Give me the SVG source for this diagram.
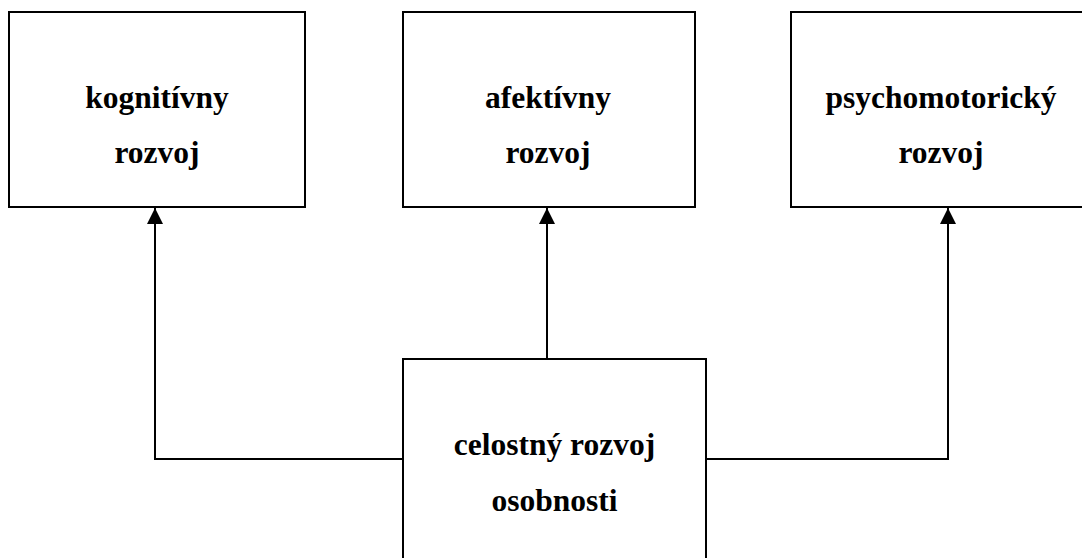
<svg xmlns="http://www.w3.org/2000/svg" width="1082" height="558" viewBox="0 0 1082 558">
<style>
.box{fill:#fff;stroke:#000;stroke-width:2}
.lbl{font-family:"Liberation Serif","Times New Roman",serif;font-weight:bold;font-size:31.5px;fill:#000;text-anchor:middle}
.conn{fill:none;stroke:#000;stroke-width:2}
</style>
<defs>
<marker id="arr" markerUnits="userSpaceOnUse" markerWidth="16" markerHeight="16" refX="16" refY="8" orient="auto">
<path d="M0,0 L16,8 L0,16 Z" fill="#000"/>
</marker>
</defs>
<rect width="1082" height="558" fill="#fff"/>
<g id="connectors">
<path class="conn" d="M403,459 H155 V208" marker-end="url(#arr)"/>
<path class="conn" d="M547,359 V208" marker-end="url(#arr)"/>
<path class="conn" d="M706,459 H948 V208" marker-end="url(#arr)"/>
</g>
<g id="kognitivny">
<rect class="box" x="9" y="12" width="296" height="195"/>
<text class="lbl" x="157" y="108">kognitívny</text>
<text class="lbl" x="157" y="163">rozvoj</text>
</g>
<g id="afektivny">
<rect class="box" x="403" y="12" width="292" height="195"/>
<text class="lbl" x="548" y="108">afektívny</text>
<text class="lbl" x="548" y="163">rozvoj</text>
</g>
<g id="psychomotoricky">
<rect class="box" x="791" y="12" width="300" height="195"/>
<text class="lbl" x="941" y="108">psychomotorický</text>
<text class="lbl" x="941" y="163">rozvoj</text>
</g>
<g id="celostny">
<rect class="box" x="403" y="359" width="303" height="210"/>
<text class="lbl" x="554.5" y="455">celostný rozvoj</text>
<text class="lbl" x="554.5" y="511">osobnosti</text>
</g>
</svg>
